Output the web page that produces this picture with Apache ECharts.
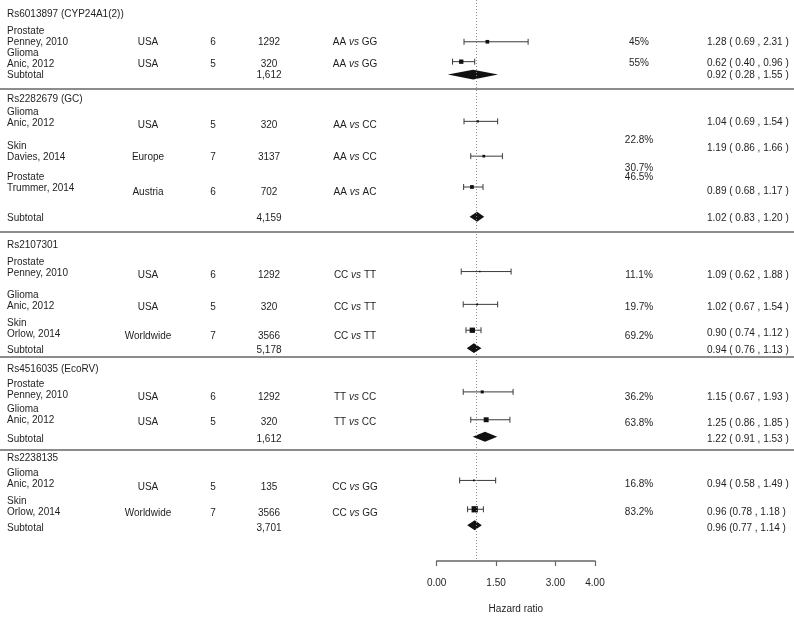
<!DOCTYPE html>
<html><head><meta charset="utf-8">
<script src="https://cdn.jsdelivr.net/npm/echarts@6/dist/echarts.min.js"></script>
<style>html,body{margin:0;padding:0;background:#fff}#c{width:794px;height:619px}</style>
</head><body><div id="c"></div>
<script>
// ---------------- DATA ----------------
const snpNames = ["Rs6013897 (CYP24A1(2))", "Rs2282679 (GC)", "Rs2107301", "Rs4516035 (EcoRV)", "Rs2238135"];
const studySection = [0, 0, 1, 1, 1, 2, 2, 2, 3, 3, 4, 4];
const cancerType = ["Prostate", "Glioma", "Glioma", "Skin", "Prostate", "Prostate", "Glioma", "Skin", "Prostate", "Glioma", "Glioma", "Skin"];
const studyName = ["Penney, 2010", "Anic, 2012", "Anic, 2012", "Davies, 2014", "Trummer, 2014", "Penney, 2010", "Anic, 2012", "Orlow, 2014", "Penney, 2010", "Anic, 2012", "Anic, 2012", "Orlow, 2014"];
const country = ["USA", "USA", "USA", "Europe", "Austria", "USA", "USA", "Worldwide", "USA", "USA", "USA", "Worldwide"];
const quality = [6, 5, 5, 7, 6, 6, 5, 7, 6, 5, 5, 7];
const sampleSize = [1292, 320, 320, 3137, 702, 1292, 320, 3566, 1292, 320, 135, 3566];
const compA = ["AA", "AA", "AA", "AA", "AA", "CC", "CC", "CC", "TT", "TT", "CC", "CC"];
const compB = ["GG", "GG", "CC", "CC", "AC", "TT", "TT", "TT", "CC", "CC", "GG", "GG"];
const weightPct = [45, 55, 22.8, 30.7, 46.5, 11.1, 19.7, 69.2, 36.2, 63.8, 16.8, 83.2];
const hr = [1.28, 0.62, 1.04, 1.19, 0.89, 1.09, 1.02, 0.90, 1.15, 1.25, 0.94, 0.96];
const hrLo = [0.69, 0.40, 0.69, 0.86, 0.68, 0.62, 0.67, 0.74, 0.67, 0.86, 0.58, 0.78];
const hrHi = [2.31, 0.96, 1.54, 1.66, 1.17, 1.88, 1.54, 1.12, 1.93, 1.85, 1.49, 1.18];
const subN = [1612, 4159, 5178, 1612, 3701];
const subHr = [0.92, 1.02, 0.94, 1.22, 0.96];
const subLo = [0.28, 0.83, 0.76, 0.91, 0.77];
const subHi = [1.55, 1.20, 1.13, 1.53, 1.14];
const axisTicks = [0, 1.5, 3, 4];
const axisTitle = "Hazard ratio";

// ---------------- LAYOUT (rows in pixel units) ----------------
const headerY = [14, 99, 245, 369, 458];
const studyY = [42, 64, 123, 157, 188, 273, 306, 334, 395, 420, 484, 512];
const colDy = [0, 0, 2, 0, 4, 2, 1, 2, 2, 2, 3, 1];
const ciDy = [0, -2, -1, 0, 0, 0, 0, -2, -1, 2, -1, 0];
const weightDy = [0, -1, 17, 11, -11, 2, 1, 2, 2, 3, 0, 0];
const hrDy = [0, -1, -1, -9, 3, 2, 1, -1, 2, 3, 0, 0];
const tightCI = [false, false, false, false, false, false, false, false, false, false, false, true];
const subtotalY = [75, 218, 350, 439, 528];
const separatorY = [89, 232, 357, 450];
const COL = { name: 7, country: 148, quality: 213, n: 269, comp: 355, weight: 639, hr: 707, right: 794 };

const FONT = '"Liberation Sans", Arial, Helvetica, sans-serif';
const TXT = '#1e1e1e';
const FS = 10;

function fmtN(v) { return v.toLocaleString('en-US'); }
function fmtCI(h, l, u, tight) {
  return h.toFixed(2) + (tight ? ' (' : ' ( ') + l.toFixed(2) + ' , ' + u.toFixed(2) + ' )';
}
function txt(api, x, y, s, align, extra) {
  const p = api.coord([x, y]);
  return {
    type: 'text', x: p[0], y: p[1],
    style: Object.assign({ text: s, fill: TXT, fontSize: FS, fontFamily: FONT, align: align || 'left', verticalAlign: 'middle' }, extra || {})
  };
}

const chart = echarts.init(document.getElementById('c'), null, { renderer: 'canvas' });

const option = {
  animation: false,
  backgroundColor: '#fff',
  grid: [
    { left: 0, top: 0, width: 794, height: 619 },
    { left: 436.7, top: 0, width: 158.3, height: 564 }
  ],
  xAxis: [
    { gridIndex: 0, type: 'value', min: 0, max: 794, show: false },
    {
      gridIndex: 1, type: 'value', min: 0, max: 4, position: 'bottom',
      axisLine: { show: true, onZero: false, lineStyle: { color: '#666', width: 1.5 } },
      axisTick: { show: true, customValues: axisTicks, length: 5, lineStyle: { color: '#666', width: 1.2 } },
      axisLabel: { customValues: axisTicks, formatter: v => v.toFixed(2), margin: 17, fontSize: FS, fontFamily: FONT, color: TXT },
      splitLine: { show: false },
      name: axisTitle, nameLocation: 'middle', nameGap: 43,
      nameTextStyle: { fontSize: FS, fontFamily: FONT, color: TXT }
    }
  ],
  yAxis: [
    { gridIndex: 0, type: 'value', min: 0, max: 619, inverse: true, show: false },
    { gridIndex: 1, type: 'value', min: 0, max: 564, inverse: true, show: false }
  ],
  series: [
    // separators
    {
      type: 'custom', xAxisIndex: 0, yAxisIndex: 0, silent: true,
      data: separatorY.map(y => [y]),
      renderItem: (params, api) => {
        const y = separatorY[params.dataIndex];
        const a = api.coord([0, y]), b = api.coord([COL.right, y]);
        return { type: 'line', shape: { x1: a[0], y1: a[1], x2: b[0], y2: b[1] }, style: { stroke: '#8c8c8c', lineWidth: 2 } };
      }
    },
    // section headers + subtotal rows text
    {
      type: 'custom', xAxisIndex: 0, yAxisIndex: 0, silent: true,
      data: snpNames.map((_, i) => [i]),
      renderItem: (params, api) => {
        const s = params.dataIndex;
        const y = subtotalY[s];
        return {
          type: 'group', children: [
            txt(api, COL.name, headerY[s], snpNames[s]),
            txt(api, COL.name, y, 'Subtotal'),
            txt(api, COL.n, y, fmtN(subN[s]), 'center'),
            txt(api, COL.hr, y, fmtCI(subHr[s], subLo[s], subHi[s], s === 4))
          ]
        };
      }
    },
    // study rows text
    {
      type: 'custom', xAxisIndex: 0, yAxisIndex: 0, silent: true,
      data: studyName.map((_, i) => [i]),
      renderItem: (params, api) => {
        const i = params.dataIndex;
        const y = studyY[i], yc = y + colDy[i];
        return {
          type: 'group', children: [
            txt(api, COL.name, y - 11, cancerType[i]),
            txt(api, COL.name, y, studyName[i]),
            txt(api, COL.country, yc, country[i], 'center'),
            txt(api, COL.quality, yc, String(quality[i]), 'center'),
            txt(api, COL.n, yc, String(sampleSize[i]), 'center'),
            txt(api, COL.comp, yc, '{a|' + compA[i] + '} {b|vs} {a|' + compB[i] + '}', 'center', {
              rich: {
                a: { fontSize: FS, fontFamily: FONT, fill: TXT },
                b: { fontSize: FS, fontFamily: FONT, fill: TXT, fontStyle: 'italic' }
              }
            }),
            txt(api, COL.weight, y + weightDy[i], weightPct[i] + '%', 'center'),
            txt(api, COL.hr, y + hrDy[i], fmtCI(hr[i], hrLo[i], hrHi[i], tightCI[i]))
          ]
        };
      }
    },
    // study CIs + squares
    {
      type: 'custom', xAxisIndex: 1, yAxisIndex: 1, silent: true,
      data: hr.map((v, i) => [v, hrLo[i], hrHi[i]]),
      renderItem: (params, api) => {
        const i = params.dataIndex;
        const y = studyY[i] + ciDy[i];
        const l = api.coord([hrLo[i], y]), r = api.coord([hrHi[i], y]), c = api.coord([hr[i], y]);
        const sz = 0.6 + weightPct[i] * 0.068;
        const st = { stroke: '#3a3a3a', lineWidth: 1 };
        return {
          type: 'group', children: [
            { type: 'line', shape: { x1: l[0], y1: l[1], x2: r[0], y2: r[1] }, style: st },
            { type: 'line', shape: { x1: l[0], y1: l[1] - 3, x2: l[0], y2: l[1] + 3 }, style: st },
            { type: 'line', shape: { x1: r[0], y1: r[1] - 3, x2: r[0], y2: r[1] + 3 }, style: st },
            { type: 'rect', shape: { x: c[0] - sz / 2, y: c[1] - sz / 2, width: sz, height: sz }, style: { fill: '#111' } }
          ]
        };
      },
      markLine: {
        silent: true, symbol: 'none', label: { show: false },
        lineStyle: { color: '#8a8a8a', type: [1, 2], width: 1 },
        data: [{ xAxis: 1 }]
      }
    },
    // subtotal diamonds
    {
      type: 'custom', xAxisIndex: 1, yAxisIndex: 1, silent: true,
      data: subHr.map((v, i) => [v, subLo[i], subHi[i]]),
      renderItem: (params, api) => {
        const i = params.dataIndex;
        const y = subtotalY[i];
        const pts = [
          api.coord([subLo[i], y]), api.coord([subHr[i], y - 5]),
          api.coord([subHi[i], y]), api.coord([subHr[i], y + 5])
        ];
        return { type: 'polygon', shape: { points: pts }, style: { fill: '#111' } };
      }
    }
  ]
};
chart.setOption(option);
</script>
</body></html>
